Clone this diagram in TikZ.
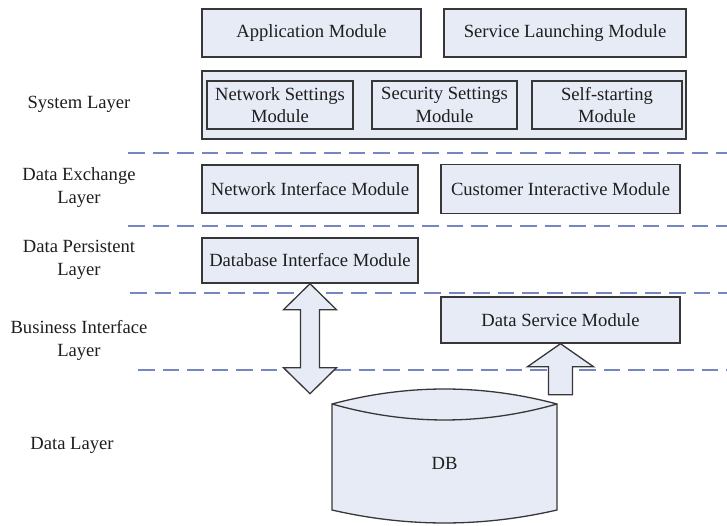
\documentclass[tikz,border=0pt]{standalone}
\usepackage{fontspec}
\setmainfont{Liberation Serif}
\usetikzlibrary{calc}

\definecolor{boxfill}{RGB}{230,235,246}
\definecolor{boxline}{RGB}{55,55,55}
\definecolor{sepline}{RGB}{118,134,192}
\definecolor{txt}{RGB}{30,30,30}

\tikzset{
  modbox/.style={draw=boxline, fill=boxfill, line width=1.4pt, inner sep=0pt,
    align=center, text=txt, minimum height=48pt},
  layerlabel/.style={align=center, text=txt, inner sep=0pt},
  separator/.style={draw=sepline, line width=2pt, dash pattern=on 16.5pt off 8pt},
  blockarrow/.style={draw=boxline, fill=boxfill, line width=1.3pt, line join=miter},
  cylinder/.style={draw=boxline, fill=boxfill, line width=1.3pt},
}

\begin{document}
\begin{tikzpicture}[x=1pt, y=-1pt, font=\fontsize{18.6}{22.5}\selectfont]
\useasboundingbox (0,0) rectangle (727,525);

% --- System layer ---
\node[modbox, minimum width=219pt] (app) at (311.5,33) {Application Module};
\node[modbox, minimum width=242pt] (launch) at (565,33) {Service Launching Module};
\node[modbox, minimum width=484pt, minimum height=68pt] (sys) at (444,105) {};
\node[modbox, minimum width=146pt] (netset) at (280,105) {Network Settings\\Module};
\node[modbox, minimum width=145pt] (secset) at (444.5,105) {Security Settings\\Module};
\node[modbox, minimum width=150pt] (selfstart) at (607,105) {Self-starting\\Module};

% --- Data exchange layer ---
\node[modbox, minimum width=216pt] (netif) at (310,189) {Network Interface Module};
\node[modbox, minimum width=239pt, minimum height=49pt] (custif) at (560.5,189) {Customer Interactive Module};

% --- Data persistent layer ---
\node[modbox, minimum width=216pt, minimum height=45pt] (dbif) at (310,260.5) {Database Interface Module};

% --- Business interface layer ---
\node[modbox, minimum width=239pt, minimum height=46pt] (dsm) at (560.5,320) {Data Service Module};

% --- layer separators ---
\coordinate (s1a) at (128,153);  \coordinate (s1b) at (727,153);
\coordinate (s2a) at (128,226);  \coordinate (s2b) at (727,226);
\coordinate (s3a) at (130,293);  \coordinate (s3b) at (727,293);
\coordinate (s4a) at (138,370);  \coordinate (s4b) at (727,370);
\draw[separator] (s1a) -- (s1b);
\draw[separator] (s2a) -- (s2b);
\draw[separator] (s3a) -- (s3b);
\draw[separator] (s4a) -- (s4b);

% --- layer names ---
\node[layerlabel] (sysL) at (79,104) {System Layer};
\node[layerlabel] (dexL) at (79,187.5) {Data Exchange\\Layer};
\node[layerlabel] (dpL) at (79,260) {Data Persistent\\Layer};
\node[layerlabel] (biL) at (79,340.5) {Business Interface\\Layer};
\node[layerlabel] (dlL) at (72,445) {Data Layer};

% --- database drum: lens-shaped top, curved bottom ---
\draw[cylinder] (332,404) .. controls (407,384) and (482,384) .. (557,404)
  -- (557,510) .. controls (482,527.3) and (407,527.3) .. (332,510) -- cycle;
\draw[cylinder, fill=none] (332,404) .. controls (407,425.3) and (482,425.3) .. (557,404);
\node[text=txt] (db) at (444.5,463) {DB};

% --- double arrow between database interface and DB ---
\draw[blockarrow] (dbif.south) -- ++(26.5,26) -- ++(-17,0) -- ++(0,58) -- ++(17,0)
  -- ++(-26.5,26) -- ++(-26.5,-26) -- ++(17,0) -- ++(0,-58) -- ++(-17,0) -- cycle;

% --- upward arrow into the data service module ---
\draw[blockarrow] (dsm.south) -- ++(33,23) -- ++(-21,0) -- ++(0,28) -- ++(-24,0)
  -- ++(0,-28) -- ++(-21,0) -- cycle;

\end{tikzpicture}
\end{document}
